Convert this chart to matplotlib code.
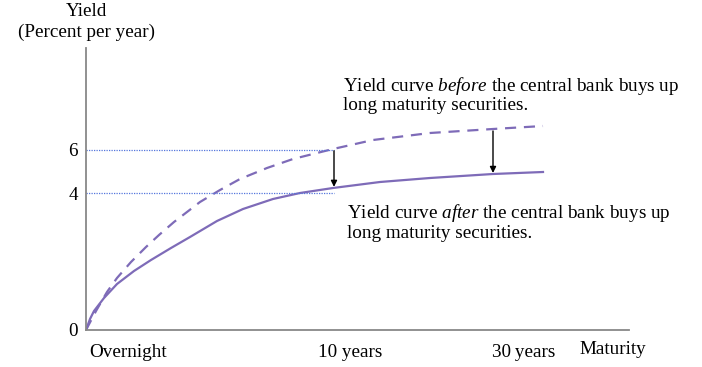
import numpy as np
import matplotlib.pyplot as plt

# schematic chart: positions (x = maturity position, y = yield height)
after_x = [0, 4, 8, 18, 31, 48, 65, 85, 104, 131, 157, 187, 214, 247, 294, 344, 407, 457]
after_y = [0, 11, 19, 32, 46, 59, 70, 82, 93, 109, 121, 131, 137, 142, 148, 152, 156, 158]
before_x = [0, 10, 21, 31, 45, 60, 73, 88, 114, 134, 154, 181, 207, 231, 247, 287, 344, 407, 457]
before_y = [0, 19, 38, 52, 68, 83, 95, 108, 128, 140, 151, 162, 171, 177, 181, 190, 197, 201, 204]

ytick_pos = [0, 137, 180]
ytick_labels = ['0', '4', '6']
xtick_pos = [42, 264, 438]
xtick_labels = ['Overnight', '10 years', '30\u2009years']
arrow_x = [248, 407]

purple = '#7E6BB8'
blue = '#5577DD'

plt.rcParams['font.family'] = ['Liberation Serif', 'DejaVu Serif']
plt.rcParams['mathtext.fontset'] = 'custom'
plt.rcParams['mathtext.rm'] = 'Liberation Serif'
plt.rcParams['mathtext.it'] = 'Liberation Serif:italic'

fs = 13.8

fig = plt.figure(figsize=(7.02, 3.67), dpi=100)
ax = fig.add_axes([86/702, 37/367, 543/702, 282/367])
ax.set_xlim(0, 543)
ax.set_ylim(0, 282)

ax.plot(after_x, after_y, color=purple, lw=1.6, solid_joinstyle='round')
ax.plot(before_x, before_y, color=purple, lw=1.6, ls=(0, (5, 3.5)))

# dotted guide lines to the 10 year point
for yv in ytick_pos[1:]:
    ax.plot([0, arrow_x[0]], [yv, yv], color=blue, lw=0.9, ls=(0, (1, 1)))

# arrows showing the drop in long yields
for xv in arrow_x:
    y0 = np.interp(xv, before_x, before_y)
    y1 = np.interp(xv, after_x, after_y)
    ax.annotate('', xy=(xv, y1 + 1), xytext=(xv, y0 - 2),
                arrowprops=dict(arrowstyle='-|>', color='black', lw=1.0,
                                mutation_scale=9, shrinkA=0, shrinkB=0))

for s in ['top', 'right']:
    ax.spines[s].set_visible(False)
for s in ['left', 'bottom']:
    ax.spines[s].set_color('#888888')
    ax.spines[s].set_linewidth(1.3)

ax.set_yticks(ytick_pos)
ax.set_yticklabels(ytick_labels, fontsize=fs)
ax.set_xticks(xtick_pos)
ax.set_xticklabels(xtick_labels, fontsize=fs)
ax.tick_params(axis='x', length=0, pad=10)
ax.tick_params(axis='y', length=0, pad=6)

fig.text(87/702, 1 - 12/367, 'Yield', ha='center', va='center', fontsize=fs)
fig.text(87/702, 1 - 32/367, '(Percent per year)', ha='center', va='center', fontsize=fs)
fig.text(613/702, 1 - 350/367, 'Maturity', ha='center', va='center', fontsize=fs)

fig.text(343/702, 1 - 86/367, 'Yield curve $\\it{before}$ the central bank buys up',
         ha='left', va='center', fontsize=fs)
fig.text(343/702, 1 - 106/367, 'long maturity securities.', ha='left', va='center', fontsize=fs)
fig.text(347/702, 1 - 213/367, 'Yield curve $\\it{after}$ the central bank buys up',
         ha='left', va='center', fontsize=fs)
fig.text(347/702, 1 - 233/367, 'long maturity securities.', ha='left', va='center', fontsize=fs)

fig.savefig('out.png', dpi=100)
